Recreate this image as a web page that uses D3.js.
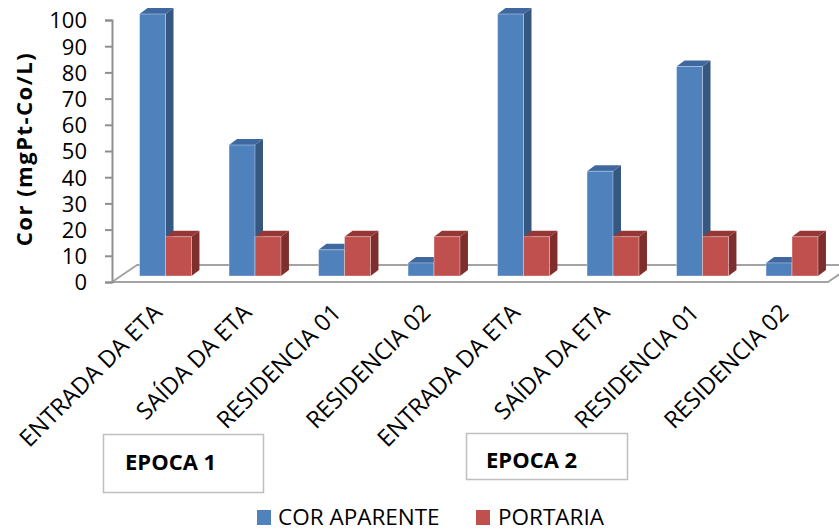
<!DOCTYPE html>
<html>
<head>
<meta charset="utf-8">
<script src="https://cdn.jsdelivr.net/npm/d3@7/dist/d3.min.js"></script>
<style>
  html, body { margin: 0; padding: 0; background: #fff; }
  svg { display: block; font-family: "Open Sans", sans-serif; }
</style>
</head>
<body>
<svg id="chart" width="839" height="531"></svg>
<script>
// Sampling points (two epochs, four points each)
const categories = [
  "ENTRADA DA ETA", "SAÍDA DA ETA", "RESIDENCIA 01", "RESIDENCIA 02",
  "ENTRADA DA ETA", "SAÍDA DA ETA", "RESIDENCIA 01", "RESIDENCIA 02"
];
const seriesNames = ["COR APARENTE", "PORTARIA"];
const corAparente = [100, 50, 10, 5, 100, 40, 80, 5];
const portaria = [15, 15, 15, 15, 15, 15, 15, 15];
const yTicks = [0, 10, 20, 30, 40, 50, 60, 70, 80, 90, 100];
const epochs = ["EPOCA 1", "EPOCA 2"];
const yTitle = "Cor (mgPt-Co/L)";

const colors = {
  "COR APARENTE": { front: "#4F81BD", side: "#36577f", top: "#3f68a0" },
  "PORTARIA":     { front: "#C0504D", side: "#7e2f2d", top: "#953835" }
};

const svg = d3.select("#chart");

// plot frame
const x0 = 112, x1 = 828, yBase = 282, yTop = 20;
const floorDx = 25, floorDy = -17;       // depth of the floor
const barDx = 8, barDy = -6;             // depth of each bar
const barShiftX = 8.75, barShiftY = -6;  // bars sit inside the floor depth

const x = d3.scaleBand()
  .domain(d3.range(categories.length))
  .range([x0, x1])
  .paddingInner(0.42)
  .paddingOuter(0.21);
const xs = d3.scaleBand().domain(seriesNames).range([0, x.bandwidth()]);
const y = d3.scaleLinear().domain([0, 100]).range([yBase, yTop]);

// floor
svg.append("polygon")
  .attr("points", [
    [x0, yBase], [x1, yBase], [x1 + floorDx, yBase + floorDy], [x0 + floorDx, yBase + floorDy]
  ].map(p => p.join(",")).join(" "))
  .attr("fill", "#fff")
  .attr("stroke", "#a3a3a3")
  .attr("stroke-width", 2)
  .attr("stroke-linejoin", "round");

// value axis
const yAxis = d3.axisLeft(y).tickValues(yTicks).tickSize(7).tickPadding(18);
const gy = svg.append("g").attr("transform", `translate(${x0},0)`).call(yAxis);
gy.select(".domain").attr("stroke", "#8f8f8f").attr("stroke-width", 2);
gy.selectAll(".tick line").attr("stroke", "#8f8f8f").attr("stroke-width", 2);
gy.selectAll(".tick text")
  .attr("font-family", "Open Sans")
  .attr("font-size", 22)
  .attr("fill", "#000")
  .attr("dy", "0.36em");

// 3D columns
const rows = [];
categories.forEach((c, i) => {
  rows.push({ i, s: "COR APARENTE", v: corAparente[i] });
  rows.push({ i, s: "PORTARIA", v: portaria[i] });
});

const bars = svg.append("g").selectAll("g.bar").data(rows).join("g").attr("class", "bar");
bars.each(function(d) {
  const g = d3.select(this);
  const bx = x(d.i) + xs(d.s) + barShiftX;
  const w = xs.bandwidth();
  const yt = y(d.v) + barShiftY;
  const yb = y(0) + barShiftY;
  const c = colors[d.s];
  const pts = a => a.map(p => p.join(",")).join(" ");
  g.append("polygon")
    .attr("points", pts([[bx + w, yt], [bx + w + barDx, yt + barDy], [bx + w + barDx, yb + barDy], [bx + w, yb]]))
    .attr("fill", c.side);
  g.append("polygon")
    .attr("points", pts([[bx, yt], [bx + barDx, yt + barDy], [bx + w + barDx, yt + barDy], [bx + w, yt]]))
    .attr("fill", c.top);
  g.append("rect")
    .attr("x", bx).attr("y", yt)
    .attr("width", w).attr("height", yb - yt)
    .attr("fill", c.front)
    .attr("stroke", "rgba(255,255,255,0.45)")
    .attr("stroke-width", 0.8);
});

// category labels
svg.append("g").selectAll("text").data(categories).join("text")
  .attr("transform", (d, i) => `translate(${x(i) + x.bandwidth() / 2 + barShiftX - 2},314) rotate(-45)`)
  .attr("text-anchor", "end")
  .attr("font-size", 23.5)
  .attr("fill", "#000")
  .text(d => d);

// axis title
svg.append("text")
  .attr("transform", "translate(32,149) rotate(-90)")
  .attr("text-anchor", "middle")
  .attr("font-size", 22)
  .attr("font-weight", "bold")
  .attr("letter-spacing", 1.5)
  .attr("fill", "#000")
  .text(yTitle);

// epoch boxes
const epochBoxes = [
  { x: 103, y: 434, w: 160, h: 58, tx: 125, ty: 470 },
  { x: 466, y: 433, w: 161, h: 46, tx: 486, ty: 468 }
];
const eg = svg.append("g").selectAll("g").data(epochs).join("g");
eg.append("rect")
  .attr("x", (d, i) => epochBoxes[i].x + 0.5)
  .attr("y", (d, i) => epochBoxes[i].y + 0.5)
  .attr("width", (d, i) => epochBoxes[i].w)
  .attr("height", (d, i) => epochBoxes[i].h)
  .attr("fill", "#fff")
  .attr("stroke", "#bfbfbf")
  .attr("stroke-width", 1.5);
eg.append("text")
  .attr("x", (d, i) => epochBoxes[i].tx)
  .attr("y", (d, i) => epochBoxes[i].ty)
  .attr("font-size", 22)
  .attr("font-weight", "bold")
  .attr("fill", "#000")
  .text(d => d);

// legend
const legendPos = [{ sx: 257, tx: 278 }, { sx: 476, tx: 498 }];
const lg = svg.append("g").selectAll("g").data(seriesNames).join("g");
lg.append("rect")
  .attr("x", (d, i) => legendPos[i].sx)
  .attr("y", 510)
  .attr("width", 14).attr("height", 15)
  .attr("fill", d => colors[d].front);
lg.append("text")
  .attr("x", (d, i) => legendPos[i].tx)
  .attr("y", 525)
  .attr("font-size", 22.5)
  .attr("fill", "#000")
  .text(d => d);
</script>
</body>
</html>
